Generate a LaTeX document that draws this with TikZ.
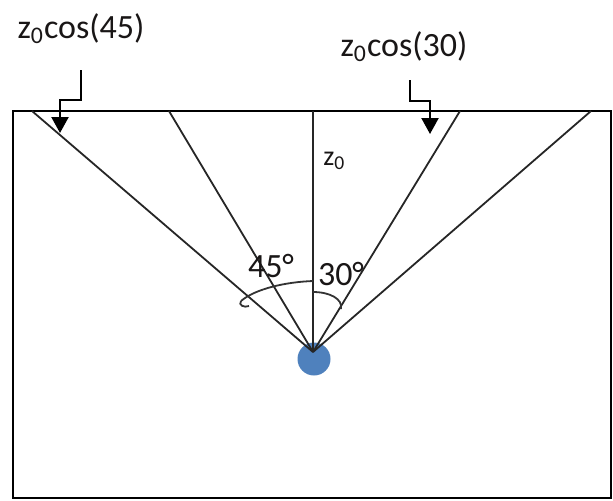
\documentclass[tikz,border=0pt]{standalone}
\usepackage{fontspec}
\setmainfont{Carlito}
\usepackage{tikz}
\usetikzlibrary{arrows.meta, calc}
\definecolor{srcblue}{RGB}{79,129,189}
\definecolor{textdark}{RGB}{25,22,22}

\begin{document}
\begin{tikzpicture}[
  x=0.5pt, y=-0.5pt,
  ray/.style={draw=black!85, line width=0.9pt},
  anglearc/.style={draw=black!80, line width=0.9pt},
  pointer/.style={draw=black, line width=1.1pt, -{Triangle[width=8.5pt, length=8pt]}},
  label/.style={font=\fontsize{17}{20}\selectfont, color=textdark, inner sep=0pt},
  small/.style={font=\fontsize{14}{16}\selectfont, color=textdark, inner sep=0pt},
  source/.style={circle, fill=srcblue, minimum size=16.5pt, inner sep=0pt},
]
\useasboundingbox (0,0) rectangle (613,500);

%% Tank outline
\draw[line width=1.2pt] (13,111) rectangle (611,498);

%% Source and ray end points
\node[source] (src) at (314,359) {};
\coordinate (apex) at (313,352);
\coordinate (tl) at (32,111);
\coordinate (t45) at (169,111);
\coordinate (t0) at (313,111);
\coordinate (t30) at (460,111);
\coordinate (tr) at (591,111);

\foreach \t in {tl,t45,t0,t30,tr}
  \draw[ray] (apex) -- (\t);

%% Angle arcs
\coordinate (a45s) at (313,281);
\coordinate (a45e) at (241,301);
\coordinate (a30s) at (313,292);
\coordinate (a30e) at (341,309);
\draw[anglearc] (a45s) .. controls (285,282) and (255,289) .. (a45e);
\draw[anglearc] (a45e) .. controls (238,305) and (244,308) .. (249,306);
\draw[anglearc] (a30s) .. controls (330,292) and (343,299) .. (a30e);

\node[label] (ang45) at (271,266) {45°};
\node[label] (ang30) at (341,274) {30°};
\node[small, anchor=west] (zz) at (323,161) {z\textsubscript{0}};

%% Projected depths
\node[label] (c45) at (81,29) {z\textsubscript{0}cos(45)};
\node[label] (c30) at (404,47) {z\textsubscript{0}cos(30)};
\coordinate (p45) at (81,70);
\coordinate (p30) at (410,80);
\draw[pointer] (p45) -- (81,100) -- (60,100) -- (60,133);
\draw[pointer] (p30) -- (410,101) -- (430,101) -- (430,134);

\end{tikzpicture}
\end{document}
